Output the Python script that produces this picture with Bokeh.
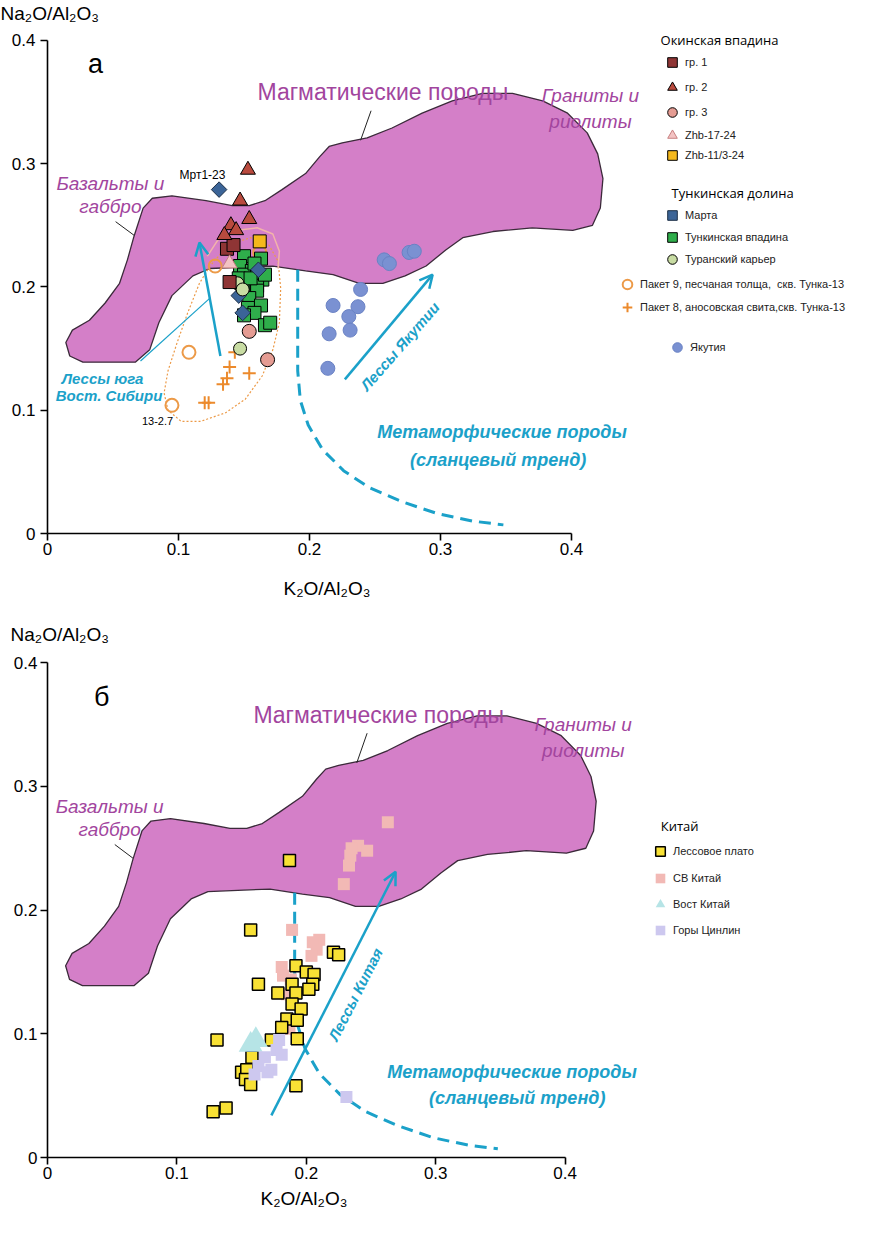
import math
from bokeh.plotting import figure
from bokeh.layouts import column
from bokeh.models import Label, Legend, LegendItem, Arrow, OpenHead, FixedTicker, Range1d, Title
from bokeh.embed import file_html
from bokeh.resources import INLINE

# ---------------- shared reference fields ----------------
mag_x = [0.014, 0.017, 0.027, 0.067, 0.078, 0.085, 0.095, 0.111, 0.124, 0.147, 0.172, 0.197,
         0.218, 0.238, 0.256, 0.273, 0.289, 0.304, 0.317, 0.340, 0.370, 0.401, 0.416, 0.422,
         0.424, 0.420, 0.412, 0.397, 0.378, 0.355, 0.332, 0.309, 0.286, 0.263, 0.244, 0.225,
         0.215, 0.208, 0.197, 0.179, 0.166, 0.154, 0.141, 0.121, 0.095, 0.080, 0.073, 0.066,
         0.061, 0.055, 0.044, 0.032, 0.019]
mag_y = [0.155, 0.144, 0.139, 0.139, 0.149, 0.171, 0.193, 0.209, 0.215, 0.216, 0.217, 0.213,
         0.210, 0.203, 0.203, 0.209, 0.217, 0.230, 0.240, 0.245, 0.248, 0.246, 0.250, 0.264,
         0.288, 0.308, 0.325, 0.341, 0.351, 0.357, 0.357, 0.351, 0.341, 0.329, 0.321, 0.317,
         0.314, 0.306, 0.292, 0.279, 0.270, 0.266, 0.266, 0.270, 0.274, 0.272, 0.264, 0.241,
         0.222, 0.203, 0.187, 0.173, 0.165]

trend_x = [0.191, 0.191, 0.193, 0.199, 0.210, 0.226, 0.246, 0.270, 0.298, 0.325, 0.348]
trend_y = [0.214, 0.132, 0.108, 0.088, 0.068, 0.051, 0.037, 0.026, 0.016, 0.010, 0.007]

# ---------------- panel a data ----------------
grp1_x = [0.137, 0.142, 0.139]
grp1_y = [0.231, 0.234, 0.204]
grp2_x = [0.153, 0.147, 0.154, 0.140, 0.144, 0.135]
grp2_y = [0.295, 0.270, 0.255, 0.250, 0.246, 0.242]
grp3_x = [0.154, 0.168]
grp3_y = [0.164, 0.141]
zhb17_x = [0.139]
zhb17_y = [0.219]
zhb11_x = [0.162]
zhb11_y = [0.237]
marta_x = [0.131, 0.161, 0.146, 0.149]
marta_y = [0.279, 0.214, 0.193, 0.179]
tunka_x = [0.150, 0.147, 0.163, 0.156, 0.150, 0.164, 0.154, 0.160, 0.149, 0.160, 0.154,
           0.163, 0.153, 0.158, 0.150, 0.166, 0.170, 0.146, 0.155, 0.158, 0.166]
tunka_y = [0.225, 0.217, 0.223, 0.213, 0.210, 0.206, 0.203, 0.201, 0.198, 0.197, 0.191,
           0.185, 0.183, 0.179, 0.177, 0.169, 0.171, 0.207, 0.207, 0.219, 0.210]
turan_x = [0.145, 0.149, 0.147]
turan_y = [0.203, 0.198, 0.150]
pak9_x = [0.128, 0.162, 0.108, 0.095]
pak9_y = [0.217, 0.228, 0.147, 0.104]
pak8_x = [0.139, 0.154, 0.137, 0.134, 0.120, 0.123, 0.143]
pak8_y = [0.135, 0.130, 0.126, 0.121, 0.106, 0.106, 0.147]
yak_x = [0.257, 0.261, 0.276, 0.280, 0.239, 0.218, 0.237, 0.230, 0.231, 0.215, 0.214]
yak_y = [0.222, 0.219, 0.228, 0.229, 0.198, 0.185, 0.184, 0.176, 0.165, 0.162, 0.134]

env_x = [0.124, 0.116, 0.107, 0.099, 0.092, 0.089, 0.092, 0.102, 0.117, 0.136, 0.151, 0.164,
         0.172, 0.177, 0.178, 0.176, 0.169, 0.155, 0.138, 0.124]
env_y = [0.217, 0.203, 0.179, 0.155, 0.132, 0.114, 0.100, 0.091, 0.091, 0.098, 0.109, 0.128,
         0.149, 0.171, 0.199, 0.221, 0.234, 0.240, 0.234, 0.217]
arc_x = [0.122, 0.130, 0.145, 0.160, 0.172, 0.177, 0.176]
arc_y = [0.225, 0.238, 0.246, 0.248, 0.243, 0.229, 0.215]

# ---------------- panel b data ----------------
loess_x = [0.187, 0.157, 0.221, 0.225, 0.192, 0.200, 0.206, 0.163, 0.178, 0.189, 0.192, 0.205,
           0.202, 0.189, 0.196, 0.185, 0.193, 0.181, 0.193, 0.131, 0.173, 0.150, 0.154, 0.153,
           0.157, 0.192, 0.128, 0.138, 0.158]
loess_y = [0.240, 0.184, 0.166, 0.164, 0.155, 0.150, 0.148, 0.140, 0.133, 0.140, 0.133, 0.140,
           0.136, 0.124, 0.120, 0.112, 0.111, 0.105, 0.096, 0.095, 0.095, 0.069, 0.071, 0.063,
           0.059, 0.058, 0.037, 0.040, 0.081]
ne_x = [0.263, 0.240, 0.235, 0.247, 0.234, 0.233, 0.229, 0.189, 0.210, 0.205, 0.208, 0.204,
        0.181, 0.182, 0.188, 0.185, 0.187]
ne_y = [0.271, 0.252, 0.250, 0.248, 0.244, 0.236, 0.221, 0.184, 0.176, 0.174, 0.168, 0.163,
        0.154, 0.147, 0.144, 0.132, 0.104]
east_x = [0.157, 0.161]
east_y = [0.091, 0.095]
qin_x = [0.179, 0.177, 0.181, 0.168, 0.163, 0.173, 0.170, 0.160, 0.231]
qin_y = [0.095, 0.087, 0.083, 0.081, 0.074, 0.071, 0.069, 0.067, 0.049]

TICKS = [0, 0.1, 0.2, 0.3, 0.4]
PURPLE = "#a2459e"
CYAN = "#1ba1c9"
ORANGE = "#ec9a48"
FONT = "Liberation Sans"


def base_fig(height, left, top, bottom, xend, yend, title_offset, xt_offset, xt_standoff):
    p = figure(width=857, height=height, x_range=Range1d(0, xend), y_range=Range1d(0, yend),
               output_backend="svg", toolbar_location=None,
               min_border_left=left, min_border_right=0, min_border_top=top,
               min_border_bottom=bottom)
    p.outline_line_color = None
    p.grid.visible = False
    p.background_fill_color = "white"
    for ax in (p.xaxis[0], p.yaxis[0]):
        ax.bounds = (0, 0.4)
        ax.ticker = FixedTicker(ticks=TICKS)
        ax.major_label_overrides = {0: "0"}
        ax.minor_tick_line_color = None
        ax.major_tick_in = 0
        ax.major_tick_out = 7
        ax.axis_line_width = 1.6
        ax.major_tick_line_width = 1.6
        ax.major_label_text_font = FONT
        ax.major_label_text_font_size = "17px"
        ax.major_label_text_color = "black"
    p.xaxis[0].major_label_standoff = 2
    p.yaxis[0].major_label_standoff = 5
    # y-axis title, written horizontally above the axis
    p.title.text = "Na₂O/Al₂O₃"
    p.title.align = "left"
    p.title.offset = title_offset
    p.title.standoff = 0
    p.title.text_font = FONT
    p.title.text_font_size = "19px"
    p.title.text_font_style = "normal"
    p.title.text_color = "black"
    # x-axis title, under the tick labels, centred near the middle of the axis
    p.add_layout(Title(text="K₂O/Al₂O₃", align="left", offset=xt_offset, standoff=xt_standoff,
                       text_font=FONT, text_font_size="19px", text_font_style="normal",
                       text_color="black"), "below")
    return p


def txt(p, x, y, s, size, color="black", style="normal", align="center", angle=0,
        font=FONT):
    p.add_layout(Label(x=x, y=y, text=s, text_font_size=size, text_color=color,
                       text_font_style=style, text_align=align, text_baseline="middle",
                       angle=angle, angle_units="deg", text_font=font))


def arrow(p, x0, y0, x1, y1, width=2.5):
    p.add_layout(Arrow(end=OpenHead(size=13, line_color=CYAN, line_width=width),
                       x_start=x0, y_start=y0, x_end=x1, y_end=y1,
                       line_color=CYAN, line_width=width))


def legend_item(p, r, label, cx, cy, fl, fb, g=24, size="11px"):
    leg = Legend(items=[LegendItem(label=label, renderers=[r])],
                 location=(cx - fl - g / 2, fb - cy - g / 2),
                 glyph_width=g, glyph_height=g, label_height=g, label_standoff=1,
                 padding=0, margin=0, spacing=0, border_line_color=None,
                 background_fill_alpha=0, label_text_font_size=size,
                 label_text_font=FONT, label_text_color="#222222")
    p.add_layout(leg)


def magmatic(p, gx, gy):
    p.patch(mag_x, mag_y, fill_color="#d47fc8", line_color="#3b2a3a", line_width=1.3)
    p.line(trend_x, trend_y, line_color=CYAN, line_width=3, line_dash="12 7")
    txt(p, 0.256, 0.358, "Магматические породы", "23px", PURPLE)
    p.line([0.247, 0.239], [0.343, 0.319], line_color="#222222", line_width=1)
    txt(p, 0.048, 0.284, "Базальты и", "19px", PURPLE, "italic")
    txt(p, 0.048, 0.265, "габбро", "19px", PURPLE, "italic")
    p.line([0.052, 0.066], [0.253, 0.242], line_color="#222222", line_width=1)
    txt(p, gx, gy, "Граниты и", "19px", PURPLE, "italic")
    txt(p, gx, gy - 0.021, "риолиты", "19px", PURPLE, "italic")


# ================= panel a =================
FL1, FB1 = 55, 541
p1 = base_fig(621, 47, 22, 88, 810 / 1310, 511 / 1235, -47, 236, 36)
magmatic(p1, 0.4145, 0.355)

p1.line(env_x, env_y, line_color=ORANGE, line_width=1.2, line_dash="2 2")
p1.line(arc_x, arc_y, line_color="#f2b4aa", line_width=1.5)

r_pak8 = p1.scatter(pak8_x, pak8_y, marker="cross", size=13, line_color="#ec8a2c", line_width=2)
r_pak9 = p1.scatter(pak9_x, pak9_y, marker="circle", size=13, fill_color=None,
                    line_color=ORANGE, line_width=2)
r_yak = p1.scatter(yak_x, yak_y, marker="circle", size=14, fill_color="#7a91d2",
                   line_color="#6a82c4", line_width=1)
r_tunka = p1.scatter(tunka_x, tunka_y, marker="square", size=13, fill_color="#2fae4b",
                     line_color="black", line_width=1)
r_marta = p1.scatter(marta_x, marta_y, marker="square", angle=math.pi / 4, size=11,
                     fill_color="#3b6497", line_color="#1e3048", line_width=1)
r_turan = p1.scatter(turan_x, turan_y, marker="circle", size=13, fill_color="#c8dca3",
                     line_color="black", line_width=1)
r_grp3 = p1.scatter(grp3_x, grp3_y, marker="circle", size=14, fill_color="#e59c93",
                    line_color="black", line_width=1)
r_grp1 = p1.scatter(grp1_x, grp1_y, marker="square", size=13, fill_color="#8f3535",
                    line_color="black", line_width=1)
r_zhb11 = p1.scatter(zhb11_x, zhb11_y, marker="square", size=13, fill_color="#f4b81c",
                     line_color="black", line_width=1)
r_grp2 = p1.scatter(grp2_x, grp2_y, marker="triangle", size=15, fill_color="#b94a3e",
                    line_color="black", line_width=1)
r_zhb17 = p1.scatter(zhb17_x, zhb17_y, marker="triangle", size=15, fill_color="#f3c3c3",
                     line_color="#c88080", line_width=1)

txt(p1, 0.0366, 0.381, "а", "27px")
txt(p1, 0.1008, 0.291, "Мрт1-23", "12px", align="left")
txt(p1, 0.084, 0.0915, "13-2.7", "11px")
txt(p1, 0.042, 0.126, "Лессы юга", "15px", CYAN, "bold italic")
txt(p1, 0.047, 0.112, "Вост. Сибири", "15px", CYAN, "bold italic")
arrow(p1, 0.132, 0.144, 0.116, 0.236)
p1.line([0.071, 0.124], [0.140, 0.191], line_color=CYAN, line_width=1.2)
txt(p1, 0.269, 0.152, "Лессы Якутии", "15px", CYAN, "bold italic", angle=49)
arrow(p1, 0.227, 0.125, 0.294, 0.210)
txt(p1, 0.347, 0.082, "Метаморфические породы", "18px", CYAN, "bold italic")
txt(p1, 0.344, 0.060, "(сланцевый тренд)", "18px", CYAN, "bold italic")

txt(p1, 0.513, 0.400, "Окинская впадина", "13px", font="Open Sans")
txt(p1, 0.523, 0.276, "Тункинская долина", "13px", font="Open Sans")
legend_item(p1, r_grp1, "гр. 1", 680, 70, FL1, FB1)
legend_item(p1, r_grp2, "гр. 2", 680, 95, FL1, FB1)
legend_item(p1, r_grp3, "гр. 3", 680, 120, FL1, FB1)
legend_item(p1, r_zhb17, "Zhb-17-24", 680, 143, FL1, FB1)
legend_item(p1, r_zhb11, "Zhb-11/3-24", 680, 163, FL1, FB1)
legend_item(p1, r_marta, "Марта", 680, 223, FL1, FB1)
legend_item(p1, r_tunka, "Тункинская впадина", 680, 245, FL1, FB1)
legend_item(p1, r_turan, "Туранский карьер", 680, 267, FL1, FB1)
legend_item(p1, r_pak9, "Пакет 9, песчаная толща,  скв. Тунка-13", 635, 292, FL1, FB1)
legend_item(p1, r_pak8, "Пакет 8, аносовская свита,скв. Тунка-13", 635, 315, FL1, FB1)
legend_item(p1, r_yak, "Якутия", 685, 355, FL1, FB1)

# ================= panel b =================
FL2, FB2 = 45, 1165
p2 = base_fig(596, 37, 23, 60, 820 / 1310, 513 / 1237, -37, 213, 8)
p2.yaxis[0].major_label_standoff = 3
magmatic(p2, 0.414, 0.350)

r_ne = p2.scatter(ne_x, ne_y, marker="square", size=12, fill_color="#f2b9b5", line_color=None)
r_loess = p2.scatter(loess_x, loess_y, marker="square", size=12, fill_color="#f8e135",
                     line_color="black", line_width=1.5)
r_east = p2.scatter(east_x, east_y, marker="triangle", size=24, fill_color="#b6e4e6",
                    line_color=None)
r_qin = p2.scatter(qin_x, qin_y, marker="square", size=12, fill_color="#cdc8ef", line_color=None)

txt(p2, 0.042, 0.372, "б", "27px")
txt(p2, 0.238, 0.132, "Лессы Китая", "15px", CYAN, "bold italic", angle=63)
arrow(p2, 0.173, 0.034, 0.269, 0.231)
txt(p2, 0.359, 0.069, "Метаморфические породы", "18px", CYAN, "bold italic")
txt(p2, 0.363, 0.048, "(сланцевый тренд)", "18px", CYAN, "bold italic")

txt(p2, 0.4885, 0.268, "Китай", "13px", font="Open Sans")
legend_item(p2, r_loess, "Лессовое плато", 658, 859, FL2, FB2)
legend_item(p2, r_ne, "СВ Китай", 658, 886, FL2, FB2)
legend_item(p2, r_east, "Вост Китай", 658, 912, FL2, FB2)
legend_item(p2, r_qin, "Горы Цинлин", 658, 938, FL2, FB2)

layout = column(p1, p2, spacing=0)
open("out.html", "w").write(file_html(layout, INLINE))
